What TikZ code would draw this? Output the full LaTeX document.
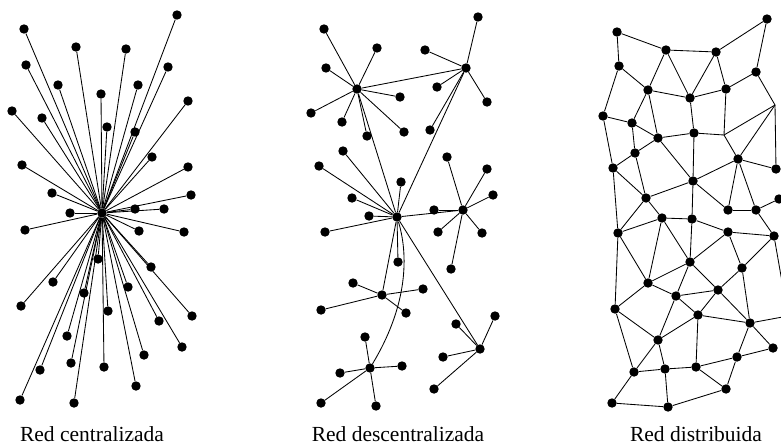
\documentclass[tikz,border=0pt]{standalone}
\usepackage{fontspec}
\setmainfont{Liberation Serif}
\begin{document}
\begin{tikzpicture}[x=1pt,y=-1pt,
  dot/.style={circle,fill=black,inner sep=0pt,minimum size=9.4pt},
  edge/.style={line width=0.85pt,black},
  lab/.style={font=\fontsize{21.5}{26}\selectfont,anchor=base,inner sep=0pt}]
\useasboundingbox (0,0) rectangle (781,445);
\clip (0,0) rectangle (781,445);
% ---------- Red centralizada ----------
\node[dot] (h1) at (102,213) {};
\foreach \p [count=\i] in {{177,15},{24,29},{76,47},{126,49},{26,65},{168,67},{58,85},{138,85},{101,94},{188,101},{12,111},{42,118},{107,127},{135,132},{152,157},{22,165},{188,167},{52,193},{191,195},{135,209},{164,209},{70,213},{25,230},{139,231},{184,232},{98,259},{151,267},{53,282},{84,293},{128,287},{21,306},{108,311},{192,316},{159,321},{67,336},{182,347},{144,355},{71,363},{40,370},{104,367},{136,386},{20,400},{74,403}}
  {\node[dot] (c\i) at (\p) {}; \draw[edge] (h1) -- (c\i);}
\node[lab] (l1) at (92,441) {Red centralizada};
% ---------- Red descentralizada ----------
\node[dot] (hA) at (466,68) {};
\node[dot] (hB) at (357,89) {};
\node[dot] (hC) at (463,210) {};
\node[dot] (hD) at (397,217) {};
\node[dot] (hE) at (382,295) {};
\node[dot] (hF) at (480,349) {};
\node[dot] (hG) at (370,368) {};
\foreach \p [count=\i] in {{324,29},{377,48},{326,68},{311,113},{342,122},{400,97},{404,132},{367,136}}
  {\node[dot] (dB\i) at (\p) {}; \draw[edge] (hB) -- (dB\i);}
\foreach \p [count=\i] in {{478,17},{425,50},{437,87},{487,102},{430,130}}
  {\node[dot] (dA\i) at (\p) {}; \draw[edge] (hA) -- (dA\i);}
\foreach \p [count=\i] in {{343,151},{319,166},{352,198},{369,216},{401,182},{325,232},{398,262}}
  {\node[dot] (dD\i) at (\p) {}; \draw[edge] (hD) -- (dD\i);}
\foreach \p [count=\i] in {{447,157},{487,169},{493,195},{434,210},{438,232},{482,233},{451,269}}
  {\node[dot] (dC\i) at (\p) {}; \draw[edge] (hC) -- (dC\i);}
\foreach \p [count=\i] in {{353,283},{423,289},{406,313},{321,310}}
  {\node[dot] (dE\i) at (\p) {}; \draw[edge] (hE) -- (dE\i);}
\foreach \p [count=\i] in {{495,316},{456,324},{443,357},{434,389}}
  {\node[dot] (dF\i) at (\p) {}; \draw[edge] (hF) -- (dF\i);}
\foreach \p [count=\i] in {{365,337},{402,366},{340,373},{321,403},{376,406}}
  {\node[dot] (dG\i) at (\p) {}; \draw[edge] (hG) -- (dG\i);}
\foreach \a/\b in {hA/hB,hA/hD,hB/hD,hD/hC,hD/hE,hD/hF}
  {\draw[edge] (\a) -- (\b);}
\draw[edge] (hD) .. controls (410,260) and (405,310) .. (hG);
\node[lab] (l2) at (398,441) {Red descentralizada};
% ---------- Red distribuida ----------
\foreach \n/\p in {a/{617,32},b/{767,19},c/{666,50},d/{716,52},e/{619,66},f/{756,72},g/{648,90},h/{726,89},i/{690,98},j/{603,116},k/{632,123},l/{694,133},m/{658,138},n/{635,153},o/{738,159},p/{613,168},q/{776,169},r/{693,181},s/{646,198},t/{779,199},u/{728,210},v/{756,210},w/{662,218},x/{692,219},y/{618,233},z/{728,232},A/{774,236},B/{690,262},C/{742,268},D/{648,283},E/{718,290},F/{676,296},G/{615,309},H/{698,315},I/{750,323},K/{773,348},L/{658,340},M/{737,357},N/{634,372},O/{665,369},P/{696,367},Q/{726,389},S/{612,403},T/{668,407},X/{788,316}}
  {\node[dot] (n\n) at (\p) {};}
\coordinate (nJ) at (724,135);
\coordinate (nR) at (775,105);
\foreach \a/\b in {a/c,a/e,c/d,d/b,b/f,e/g,e/j,c/g,c/i,d/i,d/h,f/h,f/R,g/i,h/i,g/k,g/m,i/l,h/J,j/k,j/p,k/m,k/n,m/l,l/J,J/R,R/q,R/o,J/o,m/n,m/r,l/r,n/p,n/s,p/s,p/y,o/q,o/r,o/u,o/v,r/s,r/x,r/u,v/t,s/w,s/y,u/v,w/x,y/w,w/D,w/B,x/B,x/z,z/A,v/A,z/B,z/C,C/A,C/E,C/I,y/D,y/G,B/D,B/F,B/E,D/F,D/G,F/E,F/H,F/L,E/H,E/I,H/I,H/P,H/L,G/L,G/N,I/K,I/M,I/X,A/X,K/M,L/N,L/O,N/O,N/S,O/P,O/T,P/M,P/Q,M/Q,S/T,T/Q}
  {\draw[edge] (n\a) -- (n\b);}
\node[lab] (l3) at (696,441) {Red distribuida};
\end{tikzpicture}
\end{document}
